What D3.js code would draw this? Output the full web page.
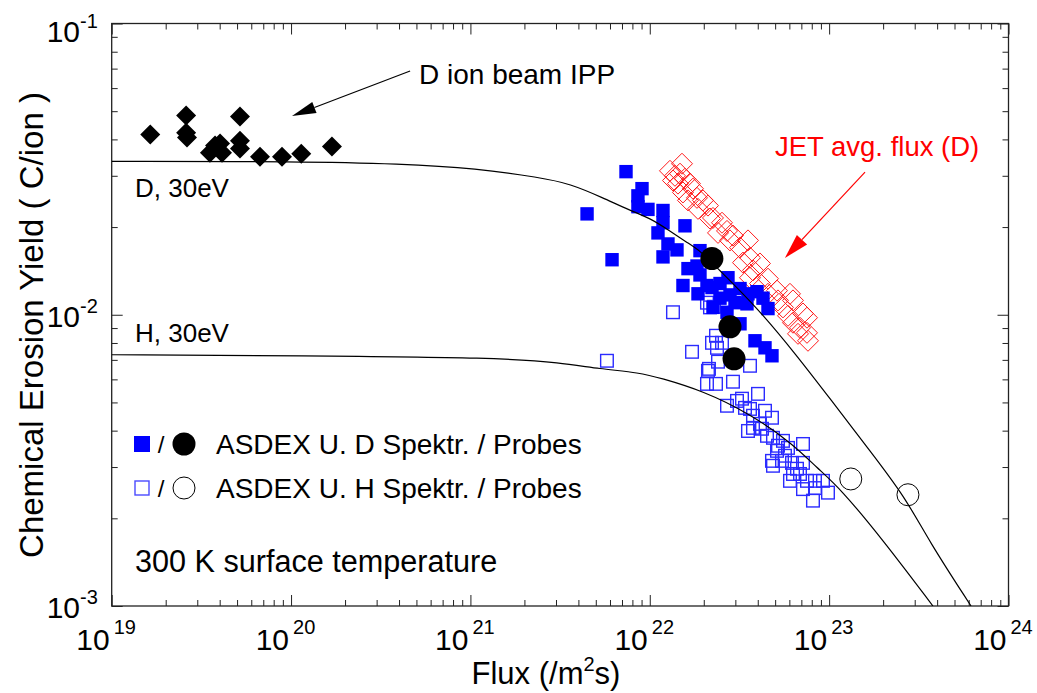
<!DOCTYPE html>
<html><head><meta charset="utf-8">
<script src="https://cdn.jsdelivr.net/npm/d3@7"></script>
<style>
html,body{margin:0;padding:0;background:#fff;}
text{font-family:"Liberation Sans",Arial,Helvetica,sans-serif;}
</style></head>
<body><svg id="c" width="1037" height="693"></svg>
<script>
// ---------- data ----------
const xTickExps = [19, 20, 21, 22, 23, 24];
const yTickExps = [-1, -2, -3];

// D ion beam IPP (black diamonds): [flux, yield]
const ionBeam = [[1.64e19,0.0416],[2.60e19,0.0483],[2.60e19,0.0422],[2.63e19,0.0406],[5.19e19,0.0479],
 [3.77e19,0.0381],[4.02e19,0.0387],[3.53e19,0.0360],[4.12e19,0.0360],[5.19e19,0.0396],[5.19e19,0.0372],
 [6.71e19,0.0349],[8.90e19,0.0349],[1.14e20,0.0357],[1.69e20,0.0378]];

// JET avg. flux (D) (red open diamonds)
const jet = [[1.512e22,0.0330],[1.296e22,0.0312],[1.382e22,0.0300],[1.474e22,0.0305],[1.571e22,0.0293],
 [1.347e22,0.0289],[1.436e22,0.0282],[1.675e22,0.0282],[1.741e22,0.0271],[1.531e22,0.0263],[1.833e22,0.0252],
 [1.633e22,0.0247],[1.980e22,0.0247],[2.111e22,0.0237],[1.857e22,0.0231],[2.251e22,0.0215],[2.527e22,0.0207],
 [2.166e22,0.0214],[2.695e22,0.0194],[2.401e22,0.0191],[2.910e22,0.0187],[2.800e22,0.0180],[3.528e22,0.0180],
 [3.185e22,0.0170],[3.620e22,0.0157],[3.309e22,0.0151],[4.116e22,0.0150],[3.762e22,0.0142],[3.620e22,0.0134],
 [4.561e22,0.0133],[4.116e22,0.0128],[5.120e22,0.0121],[6.049e22,0.0118],[4.561e22,0.0118],[5.186e22,0.0112],
 [6.287e22,0.0112],[5.529e22,0.0106],[5.896e22,0.00992],[7.149e22,0.0101],[6.287e22,0.00939],[7.525e22,0.00977],
 [6.879e22,0.00902],[7.622e22,0.00814],[6.705e22,0.00860],[7.525e22,0.00867]];

// ASDEX U. D Spektr. (blue filled squares)
const asdexDSpec = [[4.47e21,0.0222],[7.37e21,0.0310],[6.16e21,0.01545],[9.05e21,0.0271],[8.59e21,0.0256],
 [8.59e21,0.0235],[9.77e21,0.0230],[1.185e22,0.0228],[1.185e22,0.0207],[1.571e22,0.0202],[1.111e22,0.0191],
 [1.263e22,0.0175],[1.418e22,0.0167],[1.185e22,0.0158],[1.905e22,0.0166],[1.633e22,0.0144],[1.833e22,0.0147],
 [1.905e22,0.0137],[1.531e22,0.0126],[1.857e22,0.0118],[2.084e22,0.0126],[2.223e22,0.0124],[2.463e22,0.0128],
 [2.729e22,0.0134],[2.463e22,0.0114],[2.800e22,0.0117],[3.185e22,0.0123],[3.528e22,0.0118],[3.961e22,0.0120],
 [4.278e22,0.0114],[2.986e22,0.0110],[3.483e22,0.0109],[4.561e22,0.0105],[2.251e22,0.0106],[2.695e22,0.0102],
 [3.185e22,0.00931],[3.860e22,0.00814],[4.389e22,0.00770],[4.801e22,0.00723]];

// ASDEX U. H Spektr. (blue open squares)
const asdexHSpec = [[5.77e21,0.00695],[1.347e22,0.0102],[1.720e22,0.00746],[2.084e22,0.0110],[2.280e22,0.01065],
 [2.166e22,0.0106],[2.340e22,0.00847],[2.223e22,0.00801],[2.527e22,0.00801],[2.370e22,0.00770],[2.138e22,0.00652],
 [2.401e22,0.00690],[2.111e22,0.00642],[3.620e22,0.00668],[2.084e22,0.00579],[2.340e22,0.00579],[2.910e22,0.00589],
 [4.012e22,0.00535],[3.064e22,0.00506],[2.695e22,0.00487],[3.395e22,0.00479],[3.620e22,0.00475],[4.389e22,0.00468],
 [4.801e22,0.00443],[3.762e22,0.00450],[4.116e22,0.00422],[3.762e22,0.00409],[3.528e22,0.00399],[4.503e22,0.00384],
 [4.863e22,0.00378],[5.529e22,0.00369],[7.149e22,0.00360],[5.896e22,0.00349],[5.120e22,0.00341],[4.801e22,0.00315],
 [5.459e22,0.00315],[6.207e22,0.00310],[7.149e22,0.00310],[4.863e22,0.00303],[6.287e22,0.00284],[6.879e22,0.00284],
 [6.049e22,0.00269],[7.525e22,0.00269],[8.338e22,0.00269],[7.149e22,0.00252],[8.338e22,0.00254],[9.241e22,0.00269],
 [8.126e22,0.00230],[9.853e22,0.00245],[3.267e22,0.00515],[4.223e22,0.00406],[5.186e22,0.00355],[5.673e22,0.00328],
 [6.619e22,0.00296]];

// Probes
const asdexDProbe = [[2.22e22,0.0156],[2.80e22,0.00909],[2.95e22,0.00706]];
const asdexHProbe = [[1.32e23,0.00273],[2.75e23,0.00241]];

// Model curves (30 eV)
const curveD = [[1e19,0.0336],[1.122e20,0.0336],[4.05e20,0.0330],[1.089e21,0.0318],[2.44e21,0.0296],[3.59e21,0.0282],
 [5.49e21,0.0252],[7.76e21,0.0228],[1.0e22,0.0215],[1.296e22,0.0194],[1.612e22,0.0177],[1.905e22,0.0166],
 [2.370e22,0.0145],[3.961e22,0.0106],[6.619e22,0.00723],[1.011e23,0.00515],[1.690e23,0.00341],[2.648e23,0.00237],
 [3.603e23,0.00167],[6.18e23,0.00100]];
const curveH = [[1e19,0.00729],[1.122e20,0.00724],[1.462e21,0.00712],[3.16e21,0.00684],[5.28e21,0.00652],
 [8.82e21,0.00632],[1.14e22,0.00607],[1.98e22,0.00548],[3.62e22,0.00457],[6.29e22,0.00360],[8.55e22,0.00298],
 [1.150e23,0.00254],[2.02e23,0.00167],[3.79e23,0.00100]];

// ---------- drawing ----------
const svg = d3.select("#c");
const L = 111.7, R = 1008.5, T = 23.5, B = 606;
const x = d3.scaleLog().domain([1e19, 1e24]).range([L, R]);
const y = d3.scaleLog().domain([1e-3, 1e-1]).range([B, T]);

svg.append("defs").append("clipPath").attr("id","clip")
  .append("rect").attr("x",L).attr("y",T).attr("width",R-L).attr("height",B-T);

// ticks
const xMajor = xTickExps.map(e => Math.pow(10, e));
const xMinor = [];
for (let e = 19; e < 24; e++) for (let k = 2; k <= 9; k++) xMinor.push(k * Math.pow(10, e));
const yMajor = yTickExps.map(e => Math.pow(10, e));
const yMinor = [];
for (let e = -3; e < -1; e++) for (let k = 2; k <= 9; k++) yMinor.push(k * Math.pow(10, e));

function styleAxis(g){ g.select(".domain").remove(); g.selectAll("text").remove();
  g.selectAll("line").attr("stroke","#222").attr("stroke-width",1); }

svg.append("g").attr("transform",`translate(0,${B})`).call(d3.axisBottom(x).tickValues(xMajor).tickSize(-11)).call(styleAxis);
svg.append("g").attr("transform",`translate(0,${B})`).call(d3.axisBottom(x).tickValues(xMinor).tickSize(-6)).call(styleAxis);
svg.append("g").attr("transform",`translate(0,${T})`).call(d3.axisTop(x).tickValues(xMajor).tickSize(-11)).call(styleAxis);
svg.append("g").attr("transform",`translate(0,${T})`).call(d3.axisTop(x).tickValues(xMinor).tickSize(-6)).call(styleAxis);
svg.append("g").attr("transform",`translate(${L},0)`).call(d3.axisLeft(y).tickValues(yMajor).tickSize(-11)).call(styleAxis);
svg.append("g").attr("transform",`translate(${L},0)`).call(d3.axisLeft(y).tickValues(yMinor).tickSize(-6)).call(styleAxis);
svg.append("g").attr("transform",`translate(${R},0)`).call(d3.axisRight(y).tickValues(yMajor).tickSize(-11)).call(styleAxis);
svg.append("g").attr("transform",`translate(${R},0)`).call(d3.axisRight(y).tickValues(yMinor).tickSize(-6)).call(styleAxis);

// frame
svg.append("rect").attr("x",L).attr("y",T).attr("width",R-L).attr("height",B-T)
  .attr("fill","none").attr("stroke","#222").attr("stroke-width",1.3);

// tick labels
xTickExps.forEach(e => {
  const px = x(Math.pow(10, e));
  svg.append("text").attr("x",px-2).attr("y",650).attr("text-anchor","end")
    .attr("font-size",30).attr("fill","#000").text("10");
  svg.append("text").attr("x",px+2).attr("y",634).attr("text-anchor","start")
    .attr("font-size",20).attr("fill","#000").text(e);
});
yTickExps.forEach(e => {
  const py = y(Math.pow(10, e));
  const base = Math.max(py + 12, 42);
  svg.append("text").attr("x",80).attr("y",base).attr("text-anchor","end")
    .attr("font-size",30).attr("fill","#000").text("10");
  svg.append("text").attr("x",80).attr("y",base-14).attr("text-anchor","start")
    .attr("font-size",20).attr("fill","#000").text("-" + Math.abs(e));
});

// axis titles
const xt = svg.append("text").attr("x",546).attr("y",684).attr("text-anchor","middle")
  .attr("font-size",31).attr("fill","#000");
xt.append("tspan").text("Flux (/m");
xt.append("tspan").attr("font-size",20).attr("dy",-13).text("2");
xt.append("tspan").attr("dy",13).text("s)");
svg.append("text").attr("transform","translate(43,325) rotate(-90)").attr("text-anchor","middle")
  .attr("font-size",33).attr("fill","#000").text("Chemical Erosion Yield ( C/ion )");

const plot = svg.append("g").attr("clip-path","url(#clip)");

// symbols
function diamond(cx, cy, r){ return `M${cx},${cy-r}L${cx+r},${cy}L${cx},${cy+r}L${cx-r},${cy}Z`; }

// JET red open diamonds
plot.selectAll(".jet").data(jet).enter().append("path")
  .attr("d", d => diamond(x(d[0]), y(d[1]), 10.5))
  .attr("fill","none").attr("stroke","#ff1a1a").attr("stroke-width",1);

// H spectr open squares
plot.selectAll(".hs").data(asdexHSpec).enter().append("rect")
  .attr("x", d => x(d[0]) - 6.3).attr("y", d => y(d[1]) - 6.3).attr("width",12.6).attr("height",12.6)
  .attr("fill","none").attr("stroke","#2b2bff").attr("stroke-width",1.4);

// D spectr filled squares
plot.selectAll(".ds").data(asdexDSpec).enter().append("rect")
  .attr("x", d => x(d[0]) - 6.7).attr("y", d => y(d[1]) - 6.7).attr("width",13.4).attr("height",13.4)
  .attr("fill","#0000ff");

// curves
const line = d3.line().x(d => x(d[0])).y(d => y(d[1])).curve(d3.curveBasis);
[curveD, curveH].forEach(c => plot.append("path").attr("d", line(c))
  .attr("fill","none").attr("stroke","#000").attr("stroke-width",1.2));

// probes
plot.selectAll(".dp").data(asdexDProbe).enter().append("circle")
  .attr("cx", d => x(d[0])).attr("cy", d => y(d[1])).attr("r",11.5).attr("fill","#000");
plot.selectAll(".hp").data(asdexHProbe).enter().append("circle")
  .attr("cx", d => x(d[0])).attr("cy", d => y(d[1])).attr("r",11).attr("fill","none")
  .attr("stroke","#000").attr("stroke-width",1);

// ion beam black diamonds
plot.selectAll(".ib").data(ionBeam).enter().append("path")
  .attr("d", d => diamond(x(d[0]), y(d[1]), 10)).attr("fill","#000");

// ---------- annotations ----------
function arrow(x1, y1, x2, y2, col, len, wid){
  const ang = Math.atan2(y2 - y1, x2 - x1);
  const bx = x2 - len*Math.cos(ang), by = y2 - len*Math.sin(ang);
  const nx = -Math.sin(ang)*wid/2, ny = Math.cos(ang)*wid/2;
  svg.append("line").attr("x1",x1).attr("y1",y1).attr("x2",bx).attr("y2",by)
    .attr("stroke",col).attr("stroke-width",1.2);
  svg.append("path").attr("d",`M${x2},${y2}L${bx+nx},${by+ny}L${bx-nx},${by-ny}Z`).attr("fill",col);
}
arrow(x(4.61e20), y(0.0687), x(1.012e20), y(0.0481), "#000", 24, 12);
arrow(x(1.585e23), y(0.0309), x(5.67e22), y(0.01567), "#ff0000", 25, 14);

svg.append("text").attr("x",419).attr("y",84).attr("font-size",28).attr("fill","#000").text("D ion beam IPP");
svg.append("text").attr("x",775).attr("y",156).attr("font-size",27.5).attr("fill","#ff0000").text("JET avg. flux (D)");
svg.append("text").attr("x",135).attr("y",197).attr("font-size",26).attr("fill","#000").text("D, 30eV");
svg.append("text").attr("x",135).attr("y",342).attr("font-size",26).attr("fill","#000").text("H, 30eV");
svg.append("text").attr("x",135).attr("y",572).attr("font-size",30.6).attr("fill","#000").text("300 K surface temperature");

// legend
const legY = [444, 488];
svg.append("rect").attr("x",134).attr("y",legY[0]-8).attr("width",16).attr("height",16).attr("fill","#0000ff");
svg.append("rect").attr("x",135).attr("y",legY[1]-7).attr("width",14).attr("height",14)
  .attr("fill","none").attr("stroke","#4a4aff").attr("stroke-width",1.4);
legY.forEach(ly => svg.append("text").attr("x",161).attr("y",ly+9).attr("text-anchor","middle")
  .attr("font-size",24).attr("fill","#000").text("/"));
svg.append("circle").attr("cx",184).attr("cy",legY[0]).attr("r",11.5).attr("fill","#000");
svg.append("circle").attr("cx",184).attr("cy",legY[1]).attr("r",11).attr("fill","none").attr("stroke","#000");
svg.append("text").attr("x",216).attr("y",legY[0]+10).attr("font-size",28).attr("fill","#000").text("ASDEX U. D Spektr. / Probes");
svg.append("text").attr("x",216).attr("y",legY[1]+10).attr("font-size",28).attr("fill","#000").text("ASDEX U. H Spektr. / Probes");
</script></body></html>
